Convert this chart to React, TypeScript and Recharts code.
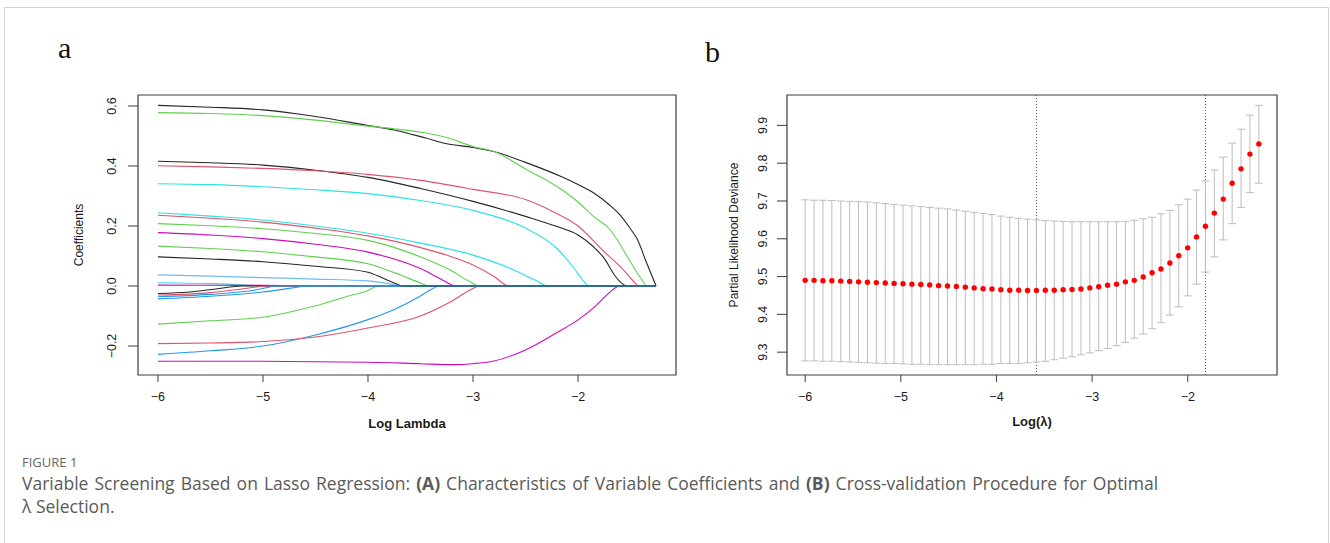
import { LineChart, Line, XAxis, YAxis, ReferenceArea, ReferenceLine, ScatterChart, Scatter, ErrorBar } from "recharts"

type Pt = [number, number]

// ---------- panel a: lasso coefficient paths ----------
const logLambdaTicks = [-6, -5, -4, -3, -2]
const nonzeroAtTicks = [22, 19, 17, 10, 6]
const coefTicks = [-0.2, 0, 0.2, 0.4, 0.6]

const path01: Pt[] = [[-6, 0.602], [-5.5, 0.596], [-5, 0.587], [-4.5, 0.565], [-4, 0.535], [-3.75, 0.52], [-3.45, 0.493], [-3.25, 0.474], [-3, 0.462], [-2.8, 0.448], [-2.5, 0.412], [-2.15, 0.363], [-2, 0.338], [-1.85, 0.31], [-1.7, 0.27], [-1.6, 0.237], [-1.5, 0.19], [-1.44, 0.159], [-1.35, 0.08], [-1.257, 0]]
const path02: Pt[] = [[-6, 0.578], [-5.5, 0.575], [-5, 0.568], [-4.5, 0.553], [-4, 0.533], [-3.75, 0.524], [-3.45, 0.51], [-3.25, 0.495], [-3, 0.465], [-2.8, 0.448], [-2.5, 0.39], [-2.15, 0.32], [-2, 0.28], [-1.85, 0.231], [-1.7, 0.19], [-1.5, 0.08], [-1.4, 0.025], [-1.34, 0], [-1.257, 0]]
const path03: Pt[] = [[-6, 0.416], [-5.5, 0.411], [-5, 0.403], [-4.5, 0.386], [-4, 0.362], [-3.5, 0.325], [-3, 0.282], [-2.5, 0.232], [-2.2, 0.198], [-2, 0.17], [-1.85, 0.13], [-1.75, 0.092], [-1.65, 0.035], [-1.58, 0.008], [-1.53, 0], [-1.257, 0]]
const path04: Pt[] = [[-6, 0.401], [-5.5, 0.397], [-5, 0.392], [-4.5, 0.384], [-4, 0.372], [-3.5, 0.352], [-3, 0.322], [-2.5, 0.288], [-2.25, 0.25], [-2, 0.2], [-1.75, 0.114], [-1.57, 0.055], [-1.47, 0.015], [-1.42, 0], [-1.257, 0]]
const path05: Pt[] = [[-6, 0.341], [-5.5, 0.338], [-5, 0.331], [-4.5, 0.321], [-4, 0.308], [-3.5, 0.285], [-3, 0.252], [-2.5, 0.193], [-2.2, 0.125], [-2.04, 0.06], [-1.95, 0.018], [-1.9, 0], [-1.257, 0]]
const path06: Pt[] = [[-6, 0.244], [-5.5, 0.233], [-5, 0.22], [-4.5, 0.2], [-4, 0.176], [-3.5, 0.143], [-3, 0.103], [-2.6, 0.052], [-2.4, 0.018], [-2.29, 0], [-1.257, 0]]
const path07: Pt[] = [[-6, 0.236], [-5.5, 0.226], [-5, 0.213], [-4.5, 0.193], [-4, 0.167], [-3.5, 0.128], [-3.2, 0.097], [-3, 0.07], [-2.8, 0.032], [-2.66, 0], [-1.257, 0]]
const path08: Pt[] = [[-6, 0.208], [-5.5, 0.201], [-5, 0.191], [-4.5, 0.175], [-4, 0.152], [-3.5, 0.097], [-3.2, 0.05], [-3.05, 0.018], [-2.93, 0], [-1.257, 0]]
const path09: Pt[] = [[-6, 0.178], [-5.5, 0.17], [-5, 0.158], [-4.5, 0.139], [-4, 0.113], [-3.5, 0.058], [-3.3, 0.022], [-3.16, 0], [-1.257, 0]]
const path10: Pt[] = [[-6, 0.133], [-5.5, 0.125], [-5, 0.114], [-4.5, 0.097], [-4, 0.074], [-3.7, 0.038], [-3.5, 0.01], [-3.42, 0], [-1.257, 0]]
const path11: Pt[] = [[-6, 0.097], [-5.5, 0.09], [-5, 0.081], [-4.5, 0.066], [-4, 0.046], [-3.85, 0.025], [-3.72, 0.006], [-3.67, 0], [-1.257, 0]]
const path12: Pt[] = [[-6, 0.037], [-5.5, 0.033], [-5, 0.028], [-4.5, 0.023], [-4, 0.017], [-3.8, 0.008], [-3.65, 0], [-1.257, 0]]
const path13: Pt[] = [[-6, 0.011], [-5.5, 0.008], [-5.2, 0.004], [-5, 0], [-1.257, 0]]
const path14: Pt[] = [[-6, 0.003], [-5, 0.002], [-4.4, 0], [-1.257, 0]]
const path15: Pt[] = [[-6, -0.025], [-5.7, -0.02], [-5.45, -0.01], [-5.2, 0], [-1.257, 0]]
const path16: Pt[] = [[-6, -0.03], [-5.5, -0.022], [-5.2, -0.01], [-4.95, 0], [-1.257, 0]]
const path17: Pt[] = [[-6, -0.036], [-5.5, -0.028], [-5.1, -0.015], [-4.85, 0], [-1.257, 0]]
const path18: Pt[] = [[-6, -0.043], [-5.5, -0.034], [-5, -0.02], [-4.75, -0.008], [-4.55, 0], [-1.257, 0]]
const path19: Pt[] = [[-6, -0.127], [-5.5, -0.116], [-5, -0.104], [-4.5, -0.066], [-4.2, -0.035], [-4, -0.015], [-3.9, 0], [-1.257, 0]]
const path20: Pt[] = [[-6, -0.192], [-5.5, -0.19], [-5, -0.185], [-4.5, -0.17], [-4, -0.14], [-3.5, -0.1], [-3.2, -0.05], [-3.02, -0.012], [-2.94, 0], [-1.257, 0]]
const path21: Pt[] = [[-6, -0.228], [-5.5, -0.216], [-5, -0.2], [-4.5, -0.163], [-4, -0.112], [-3.75, -0.078], [-3.5, -0.033], [-3.4, -0.012], [-3.32, 0], [-1.257, 0]]
const path22: Pt[] = [[-6, -0.251], [-5, -0.251], [-4, -0.254], [-3.5, -0.259], [-3.2, -0.262], [-3, -0.259], [-2.8, -0.25], [-2.5, -0.213], [-2.2, -0.155], [-2, -0.113], [-1.85, -0.072], [-1.72, -0.028], [-1.64, -0.005], [-1.6, 0], [-1.257, 0]]

// ---------- panel b: cross-validation curve ----------
const logLambdaCV = [
  -6, -5.907, -5.814, -5.721, -5.628, -5.535, -5.442, -5.349, -5.256, -5.163,
  -5.07, -4.977, -4.884, -4.791, -4.698, -4.605, -4.512, -4.419, -4.326, -4.233,
  -4.14, -4.047, -3.954, -3.861, -3.768, -3.675, -3.582, -3.489, -3.396, -3.303,
  -3.21, -3.117, -3.024, -2.931, -2.838, -2.745, -2.652, -2.559, -2.466, -2.373,
  -2.28, -2.187, -2.094, -2.001, -1.908, -1.815, -1.722, -1.629, -1.536, -1.443,
  -1.35, -1.257,
]
const cvMean = [
  9.49, 9.49, 9.489, 9.489, 9.488, 9.487, 9.486, 9.485, 9.484, 9.483,
  9.482, 9.481, 9.48, 9.479, 9.478, 9.476, 9.475, 9.474, 9.472, 9.47,
  9.468, 9.467, 9.465, 9.464, 9.464, 9.463, 9.463, 9.464, 9.464, 9.465,
  9.466, 9.467, 9.47, 9.473, 9.477, 9.48, 9.486, 9.49, 9.499, 9.51,
  9.52, 9.536, 9.555, 9.576, 9.605, 9.633, 9.668, 9.705, 9.747, 9.785,
  9.824, 9.851,
]
const cvUpper = [
  9.703, 9.702, 9.702, 9.701, 9.7, 9.699, 9.698, 9.697, 9.695, 9.693,
  9.691, 9.689, 9.687, 9.685, 9.683, 9.681, 9.679, 9.676, 9.673, 9.67,
  9.667, 9.664, 9.66, 9.657, 9.654, 9.652, 9.65, 9.648, 9.647, 9.646,
  9.645, 9.645, 9.645, 9.645, 9.645, 9.645, 9.646, 9.649, 9.653, 9.657,
  9.666, 9.675, 9.69, 9.705, 9.729, 9.753, 9.782, 9.816, 9.853, 9.89,
  9.927, 9.953,
]
const cvLower = [
  9.277, 9.277, 9.276, 9.276, 9.275, 9.274, 9.273, 9.272, 9.271, 9.27,
  9.27, 9.269, 9.268, 9.268, 9.267, 9.267, 9.267, 9.267, 9.267, 9.267,
  9.268, 9.268, 9.27, 9.27, 9.27, 9.272, 9.274, 9.276, 9.28, 9.284,
  9.288, 9.293, 9.298, 9.304, 9.31, 9.317, 9.326, 9.337, 9.348, 9.362,
  9.378, 9.398, 9.42, 9.449, 9.48, 9.512, 9.552, 9.597, 9.64, 9.683,
  9.722, 9.747,
]
const nonzeroTopCV = [22, 21, 21, 19, 18, 18, 17, 17, 16, 14, 11, 10, 7, 7, 6, 5, 3, 0]
const devianceTicks = [9.3, 9.4, 9.5, 9.6, 9.7, 9.8, 9.9]
const lambdaMin = -3.582
const lambda1se = -1.815

// ---------- styling ----------
const FONT = "'Liberation Sans', Arial, Helvetica, sans-serif"
const CAPTION_FONT = "'Open Sans', 'Noto Sans', sans-serif"
const INK = "#1a1a1a"
const FRAME = "#3c3c3c"
const BLACK = "#262626"
const RED = "#DF536B"
const GREEN = "#61D04F"
const BLUE = "#2297E6"
const CYAN = "#28E2E5"
const MAGENTA = "#CD0BBC"

const xDomain: [number, number] = [-6.19, -1.067]
const coefDomain: [number, number] = [-0.2966, 0.6366]
const devDomain: [number, number] = [9.2396, 9.9804]

// drawing order: the last few overlap on the zero line
const coefPaths = [
  { data: path22, color: MAGENTA },
  { data: path21, color: BLUE },
  { data: path20, color: RED },
  { data: path19, color: GREEN },
  { data: path01, color: BLACK },
  { data: path02, color: GREEN },
  { data: path03, color: BLACK },
  { data: path04, color: RED },
  { data: path05, color: CYAN },
  { data: path06, color: CYAN },
  { data: path07, color: RED },
  { data: path08, color: GREEN },
  { data: path09, color: MAGENTA },
  { data: path10, color: GREEN },
  { data: path13, color: CYAN },
  { data: path14, color: MAGENTA },
  { data: path15, color: BLACK },
  { data: path16, color: RED },
  { data: path17, color: BLUE },
  { data: path18, color: BLUE },
  { data: path11, color: BLACK },
  { data: path12, color: BLUE, opacity: 0.65 },
]

const cvData = logLambdaCV.map((x, i) => ({
  x,
  y: cvMean[i],
  err: [cvMean[i] - cvLower[i], cvUpper[i] - cvMean[i]],
}))
const cvTopTicks = logLambdaCV.filter((_, i) => i % 3 === 0)

const minus = (s: string) => s.replace("-", "\u2212")
const fmtLog = (v: number) => minus(String(v))
const fmtOne = (v: number) => minus(v.toFixed(1))

const tickStyle = { fill: INK, fontSize: 12.5, fontFamily: FONT }

function SideTick(props: any) {
  const { x, y, payload, shift } = props
  const bx = x - shift
  return (
    <text
      x={bx}
      y={y}
      transform={`rotate(-90 ${bx} ${y})`}
      textAnchor="middle"
      fontSize={12.5}
      fontFamily={FONT}
      fill={INK}
    >
      {fmtOne(payload.value)}
    </text>
  )
}

function CoefficientChart() {
  return (
    <LineChart width={700} height={440} margin={{ top: 65, right: 24, bottom: 35, left: 88 }}>
      <XAxis
        dataKey="x"
        type="number"
        domain={xDomain}
        allowDataOverflow
        ticks={logLambdaTicks}
        tickFormatter={fmtLog}
        tick={tickStyle}
        tickSize={7}
        tickMargin={10.5}
        height={30}
        axisLine={false}
        tickLine={{ stroke: FRAME }}
        interval={0}
      />
      <XAxis
        xAxisId="top"
        orientation="top"
        type="number"
        domain={xDomain}
        allowDataOverflow
        ticks={logLambdaTicks}
        tickFormatter={(_v: number, i: number) => String(nonzeroAtTicks[i])}
        tick={tickStyle}
        tickSize={7}
        tickMargin={9}
        height={30}
        axisLine={false}
        tickLine={{ stroke: FRAME }}
        interval={0}
      />
      <YAxis
        type="number"
        domain={coefDomain}
        allowDataOverflow
        ticks={coefTicks}
        width={50}
        tickSize={10}
        tickMargin={0}
        axisLine={false}
        tickLine={{ stroke: FRAME }}
        tick={<SideTick shift={12} />}
        interval={0}
      />
      <ReferenceArea
        x1={xDomain[0]}
        x2={xDomain[1]}
        y1={coefDomain[0]}
        y2={coefDomain[1]}
        fill="none"
        fillOpacity={0}
        stroke={FRAME}
        strokeWidth={1.2}
        ifOverflow="visible"
      />
      {coefPaths.map((p, i) => (
        <Line
          key={i}
          data={p.data.map(([x, y]) => ({ x, y }))}
          dataKey="y"
          type="monotoneX"
          stroke={p.color}
          strokeOpacity={p.opacity ?? 1}
          strokeWidth={1.1}
          dot={false}
          activeDot={false}
          isAnimationActive={false}
        />
      ))}
    </LineChart>
  )
}

function DotShape(props: any) {
  const { cx, cy } = props
  return <circle cx={cx} cy={cy} r={2.7} fill="#ff0000" />
}

function CrossValidationChart() {
  return (
    <ScatterChart width={620} height={440} margin={{ top: 65, right: 33, bottom: 35, left: 47 }}>
      <XAxis
        dataKey="x"
        type="number"
        domain={xDomain}
        allowDataOverflow
        ticks={logLambdaTicks}
        tickFormatter={fmtLog}
        tick={tickStyle}
        tickSize={7}
        tickMargin={10.5}
        height={30}
        axisLine={false}
        tickLine={{ stroke: FRAME }}
        interval={0}
      />
      <XAxis
        xAxisId="top"
        orientation="top"
        type="number"
        domain={xDomain}
        allowDataOverflow
        ticks={cvTopTicks}
        tickFormatter={(_v: number, i: number) => String(nonzeroTopCV[i])}
        tick={tickStyle}
        tickSize={7}
        tickMargin={9}
        height={30}
        axisLine={false}
        tickLine={false}
        interval={0}
      />
      <YAxis
        dataKey="y"
        type="number"
        domain={devDomain}
        allowDataOverflow
        ticks={devianceTicks}
        width={50}
        tickSize={10}
        tickMargin={0}
        axisLine={false}
        tickLine={{ stroke: FRAME }}
        tick={<SideTick shift={10} />}
        interval={0}
      />
      <ReferenceArea
        x1={xDomain[0]}
        x2={xDomain[1]}
        y1={devDomain[0]}
        y2={devDomain[1]}
        fill="none"
        fillOpacity={0}
        stroke={FRAME}
        strokeWidth={1.2}
        ifOverflow="visible"
      />
      <ReferenceLine x={lambdaMin} stroke="#555" strokeDasharray="1 2" />
      <ReferenceLine x={lambda1se} stroke="#555" strokeDasharray="1 2" />
      <Scatter data={cvData} shape={<DotShape />} isAnimationActive={false}>
        <ErrorBar dataKey="err" direction="y" width={4} stroke="#bdbdbd" strokeWidth={1} isAnimationActive={false} />
      </Scatter>
    </ScatterChart>
  )
}

export default function App() {
  return (
    <div style={{ position: "absolute", left: 0, top: 0, width: 1330, height: 543, background: "#fff", overflow: "hidden" }}>
      <svg width={1330} height={543} style={{ position: "absolute", left: 0, top: 0 }}>
        <rect x={4.5} y={7.5} width={1324} height={600} fill="none" stroke="#d2d2d2" strokeWidth={1} />
        <text x={58} y={58} fontFamily="'Liberation Serif', 'Times New Roman', serif" fontSize={30} fill="#111">a</text>
        <text x={705} y={62} fontFamily="'Liberation Serif', 'Times New Roman', serif" fontSize={30} fill="#111">b</text>
        <text x={83} y={235} transform="rotate(-90 83 235)" textAnchor="middle" fontFamily={FONT} fontSize={12} fill={INK}>
          Coefficients
        </text>
        <text x={407} y={428} textAnchor="middle" fontFamily={FONT} fontSize={13} fontWeight="bold" fill={INK}>
          Log Lambda
        </text>
        <text x={738} y={235} transform="rotate(-90 738 235)" textAnchor="middle" fontFamily={FONT} fontSize={12} fill={INK}>
          Partial Likelihood Deviance
        </text>
        <text x={1032} y={426} textAnchor="middle" fontFamily={FONT} fontSize={13} fontWeight="bold" fill={INK}>
          Log(λ)
        </text>
        <text x={22} y={467} fontFamily={CAPTION_FONT} fontSize={13} fill="#666">
          FIGURE 1
        </text>
        <text x={22} y={490} fontFamily={CAPTION_FONT} fontSize={17.5} fill="#5a5a5a" style={{ wordSpacing: 1.5 }}>
          Variable Screening Based on Lasso Regression: <tspan fontWeight="bold">(A)</tspan> Characteristics of Variable
          Coefficients and <tspan fontWeight="bold">(B)</tspan> Cross-validation Procedure for Optimal
        </text>
        <text x={22} y={513} fontFamily={CAPTION_FONT} fontSize={17.5} fill="#5a5a5a">
          λ Selection.
        </text>
      </svg>
      <div style={{ position: "absolute", left: 0, top: 0 }}>
        <CoefficientChart />
      </div>
      <div style={{ position: "absolute", left: 690, top: 0 }}>
        <CrossValidationChart />
      </div>
    </div>
  )
}
